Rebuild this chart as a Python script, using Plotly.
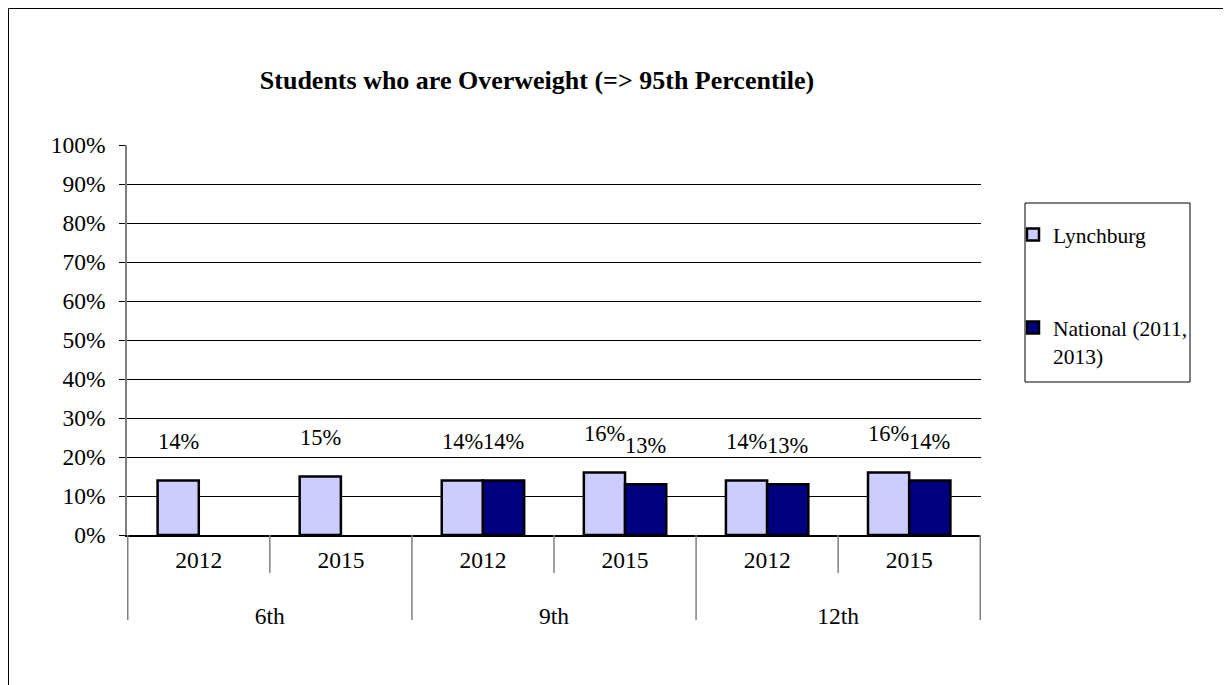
import plotly.graph_objects as go

GRADES = ["6th", "6th", "9th", "9th", "12th", "12th"]
YEARS = ["2012", "2015", "2012", "2015", "2012", "2015"]
LYNCHBURG = [0.14, 0.15, 0.14, 0.16, 0.14, 0.16]
NATIONAL = [None, None, 0.14, 0.13, 0.13, 0.14]

FONT = "Liberation Serif, Times New Roman, serif"
LYNCH_COLOR = "#CCCCFF"
NAT_COLOR = "#000080"
GREY = "#808080"

# page body adds an 8px offset, so the figure is a bit smaller than the window
OFF = 8
W, H = 1231 - OFF, 685 - OFF
L, T = 127 - OFF, 145 - OFF
PW, PH = 854, 390

# blank first line pushes the grade row further below the years
grade_row = ["<br>" + g for g in GRADES]

fig = go.Figure()
fig.add_trace(go.Bar(
    x=[grade_row, YEARS], y=LYNCHBURG, name="Lynchburg", legendgroup="a",
    marker=dict(color=LYNCH_COLOR, line=dict(color="black", width=2.5)),
))
fig.add_trace(go.Bar(
    x=[grade_row, YEARS], y=NATIONAL, name="National (2011,<br>2013)", legendgroup="b",
    marker=dict(color=NAT_COLOR, line=dict(color="black", width=2.5)),
))

# value labels sit well above the bars, as in the original
half = 0.145
for i, v in enumerate(LYNCHBURG):
    fig.add_annotation(x=i - half, y=v, text=f"{v:.0%}", showarrow=False,
                       yshift=39, font=dict(size=22.5, color="black"))
for i, v in enumerate(NATIONAL):
    if v is None:
        continue
    fig.add_annotation(x=i + half, y=v, text=f"{v:.0%}", showarrow=False,
                       yshift=39, font=dict(size=22.5, color="black"))


def px_x(x):
    return (x - 127) / PW


def px_y(y):
    return (535 - y) / PH


shapes = []
# category separators under the axis
for b in [-0.5, 1.5, 3.5, 5.5]:
    shapes.append(dict(type="line", xref="x", yref="paper", x0=b, x1=b,
                       y0=0, y1=px_y(620), line=dict(color=GREY, width=1.5)))
for b in [0.5, 2.5, 4.5]:
    shapes.append(dict(type="line", xref="x", yref="paper", x0=b, x1=b,
                       y0=0, y1=px_y(573), line=dict(color=GREY, width=1.5)))
# legend box
shapes.append(dict(type="rect", xref="paper", yref="paper",
                   x0=px_x(1025), x1=px_x(1190), y0=px_y(382), y1=px_y(203),
                   line=dict(color="black", width=1)))
# outer chart frame
shapes.append(dict(type="rect", xref="paper", yref="paper",
                   x0=px_x(8.5), x1=1.5, y0=-0.6, y1=px_y(8.5),
                   line=dict(color="black", width=1)))

fig.update_layout(
    width=W,
    height=H,
    barmode="group",
    bargap=0.42,
    bargroupgap=0,
    paper_bgcolor="white",
    plot_bgcolor="white",
    font=dict(family=FONT, size=23.5, color="black"),
    margin=dict(l=L, r=W - L - PW, t=T, b=H - T - PH, autoexpand=False),
    title=dict(text="<b>Students who are Overweight (=> 95th Percentile)</b>",
               x=(537 - OFF) / W, xanchor="center", y=1 - (80 - OFF) / H, yanchor="middle",
               font=dict(size=26, family=FONT)),
    legend=dict(x=px_x(1013), xanchor="left", y=px_y(214), yanchor="top",
                bgcolor="rgba(0,0,0,0)", font=dict(size=21.5), tracegroupgap=62,
                traceorder="grouped", valign="top"),
    shapes=shapes,
    showlegend=True,
)
fig.update_xaxes(
    type="multicategory", showline=True, linecolor="black", linewidth=1.5,
    showdividers=False, ticks="", showgrid=False, tickfont=dict(size=23.5),
    ticklabelstandoff=3,
)
fig.update_yaxes(
    range=[0, 1], dtick=0.1, tickformat=".0%", showgrid=True, gridcolor="black",
    gridwidth=1, showline=True, linecolor=GREY, linewidth=1.5, ticks="outside",
    ticklen=6, tickcolor="black", zeroline=False, tickfont=dict(size=23.5),
    ticklabelstandoff=9,
)

fig.write_html("out.html")
